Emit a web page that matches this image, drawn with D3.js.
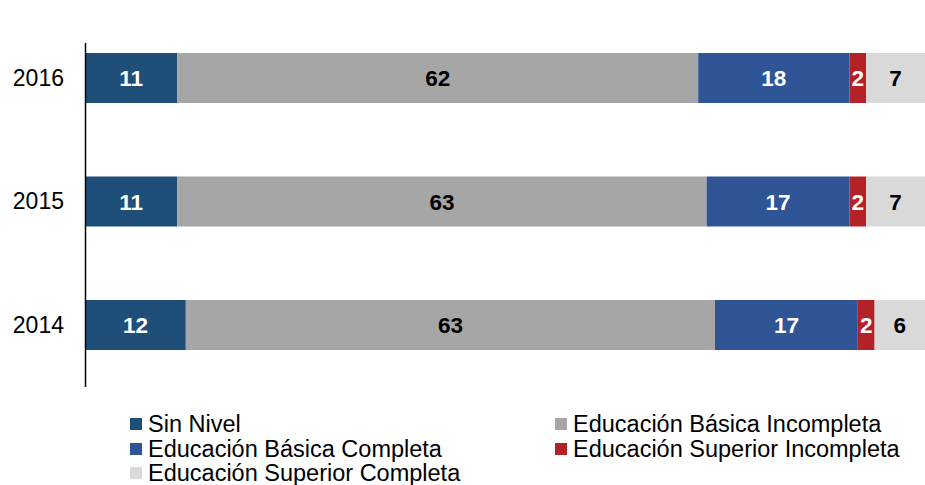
<!DOCTYPE html>
<html>
<head>
<meta charset="utf-8">
<script src="https://cdn.jsdelivr.net/npm/d3@7"></script>
<style>
  html, body { margin: 0; padding: 0; background: #fff; }
  svg { display: block; font-family: "Liberation Sans", Arial, sans-serif; }
</style>
</head>
<body>
<svg id="chart" width="925" height="485"></svg>
<script>
// Years shown top to bottom
const years = ["2016", "2015", "2014"];

// Education levels (stack order, left to right)
const levels = [
  "Sin Nivel",
  "Educación Básica Incompleta",
  "Educación Básica Completa",
  "Educación Superior Incompleta",
  "Educación Superior Completa"
];

// Percentage per level, one array per level, aligned with `years`
const sinNivel            = [11, 11, 12];
const basicaIncompleta    = [62, 63, 63];
const basicaCompleta      = [18, 17, 17];
const superiorIncompleta  = [2, 2, 2];
const superiorCompleta    = [7, 7, 6];

const colors = ["#1F4E79", "#A6A6A6", "#2F5597", "#B22227", "#D9D9D9"];
const labelColors = ["#fff", "#000", "#fff", "#fff", "#000"];

const seriesValues = [sinNivel, basicaIncompleta, basicaCompleta, superiorIncompleta, superiorCompleta];

const rows = years.map((y, i) => {
  const r = { year: y };
  levels.forEach((l, j) => { r[l] = seriesValues[j][i]; });
  return r;
});

const stacked = d3.stack().keys(levels)(rows);

const svg = d3.select("#chart");

const x = d3.scaleLinear().domain([0, 100]).range([85, 925]);
const y = d3.scalePoint().domain(years).range([78, 325]);
const barH = 50;

// Stacked bar segments
const groups = svg.append("g").selectAll("g")
  .data(stacked)
  .join("g")
  .attr("fill", (d, i) => colors[i]);

groups.selectAll("rect")
  .data(d => d)
  .join("rect")
  .attr("x", d => x(d[0]))
  .attr("y", d => y(d.data.year) - barH / 2)
  .attr("width", d => x(d[1]) - x(d[0]))
  .attr("height", barH);

// Value labels centred in each segment
groups.each(function (s, i) {
  d3.select(this).selectAll("text")
    .data(s)
    .join("text")
    .attr("x", d => (x(d[0]) + x(d[1])) / 2)
    .attr("y", d => y(d.data.year))
    .attr("dy", "0.36em")
    .attr("text-anchor", "middle")
    .attr("font-size", 22.5)
    .attr("font-weight", "bold")
    .attr("fill", labelColors[i])
    .text(d => d[1] - d[0]);
});

// Category axis
const yAxis = d3.axisLeft(y).tickSize(0).tickPadding(21);
const axisG = svg.append("g").attr("transform", "translate(85,0)").call(yAxis);
axisG.select(".domain").remove();
axisG.selectAll("text")
  .attr("font-size", 23)
  .attr("font-family", "Liberation Sans, Arial, sans-serif")
  .attr("fill", "#000");
svg.append("line")
  .attr("x1", 85.5).attr("x2", 85.5)
  .attr("y1", 43).attr("y2", 387)
  .attr("stroke", "#000").attr("stroke-width", 1.5);

// Legend
const legendPos = [
  [130, 424], [555, 424],
  [130, 449], [555, 449],
  [130, 473]
];
const legend = svg.append("g").selectAll("g")
  .data(levels)
  .join("g")
  .attr("transform", (d, i) => `translate(${legendPos[i][0]},${legendPos[i][1]})`);
legend.append("rect")
  .attr("x", 0).attr("y", -6)
  .attr("width", 12).attr("height", 12)
  .attr("fill", (d, i) => colors[i]);
legend.append("text")
  .attr("x", 18)
  .attr("dy", "0.36em")
  .attr("font-size", 23.5)
  .attr("fill", "#000")
  .text(d => d);
</script>
</body>
</html>
